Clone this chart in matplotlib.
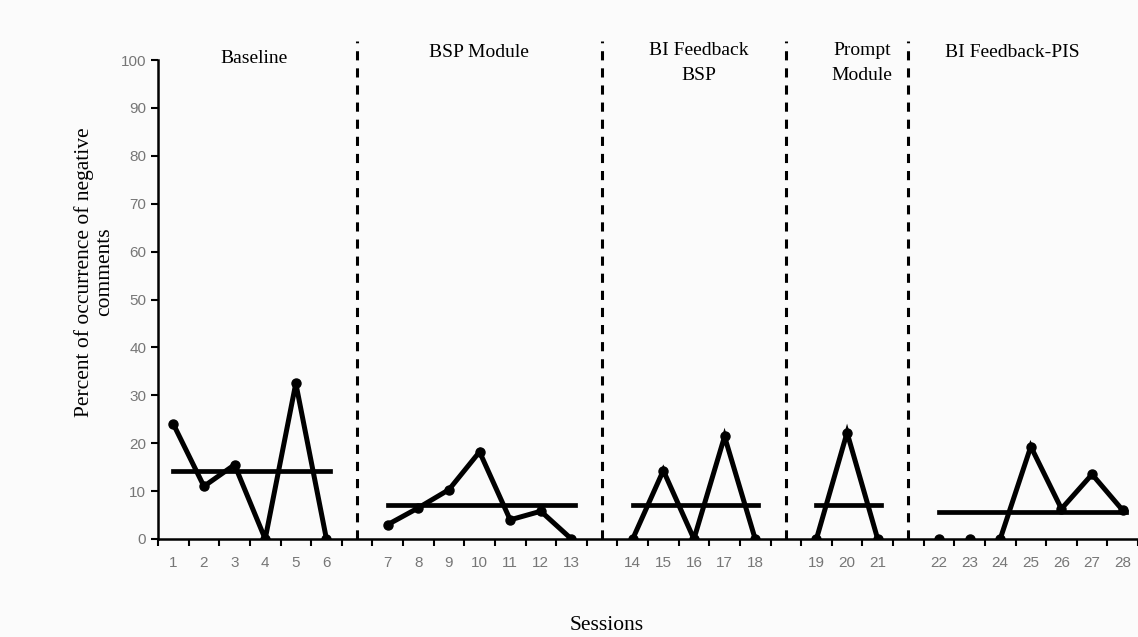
import matplotlib.pyplot as plt

# sessions per phase and percent of negative comments
phases = ["Baseline", "BSP Module", "BI Feedback\nBSP", "Prompt\nModule", "BI Feedback-PIS"]
sessions = [[1, 2, 3, 4, 5, 6],
            [7, 8, 9, 10, 11, 12, 13],
            [14, 15, 16, 17, 18],
            [19, 20, 21],
            [22, 23, 24, 25, 26, 27, 28]]
values = [[24, 11, 15.5, 0, 32.5, 0],
          [3, 6.5, 10.3, 18.2, 4, 5.8, 0],
          [0, 14.3, 0, 21.4, 0],
          [0, 22.2, 0],
          [0, 0, 0, 19.3, 6.3, 13.5, 6]]
means = [14.2, 7, 7, 7, 5.7]
# first session in each phase joined by the data line (22 and 23 stand alone)
line_start = [0, 0, 0, 0, 2]

# where the phase titles sit (slot units, y in percent)
title_x = [2.63, 9.97, 17.17, 22.49, 27.39]
title_y = [102.05, 103.3, 103.7, 103.7, 103.3]

bg = "#fbfbfb"
fig = plt.figure(figsize=(11.38, 6.37), dpi=100, facecolor=bg)
ax = fig.add_axes([158 / 1138, 98 / 637, 980 / 1138, 479 / 637], facecolor=bg)

serif = "Liberation Serif"
pos = 0
tick_pos, tick_lab, gap_pos = [], [], []
for i, (s, v) in enumerate(zip(sessions, values)):
    x = list(range(pos, pos + len(s)))
    st = line_start[i]
    ax.plot(x[st:], v[st:], color="black", lw=3.6, solid_joinstyle="miter", zorder=3)
    ax.plot(x, v, "o", color="black", ms=6.5, zorder=4)
    ax.plot([x[0], x[-1] + 0.1], [means[i], means[i]], color="black", lw=3.4, zorder=3)
    tick_pos += x
    tick_lab += [str(n) for n in s]
    ax.text(title_x[i], title_y[i], phases[i], ha="center", va="top",
            fontsize=14, family=serif, linespacing=1.58)
    pos += len(s)
    if i < len(sessions) - 1:
        gap_pos.append(pos)
        pos += 1

# phase change lines
for g in gap_pos:
    ax.plot([g, g], [0, 104], color="black", lw=2.2, ls=(0, (3, 2.6)), clip_on=False, zorder=2)

ax.set_xlim(-0.5, 31.28)
ax.set_ylim(0, 100)
ax.set_yticks(range(0, 101, 10))
ax.set_xticks(tick_pos)
ax.set_xticklabels(tick_lab)
ax.set_xticks([p - 0.5 for p in range(0, 33)], minor=True)
ax.tick_params(axis="x", which="major", length=0, pad=12)
ax.tick_params(axis="x", which="minor", length=5, width=1.5, direction="out")
ax.tick_params(axis="y", length=5, width=1.5, direction="out")
ax.tick_params(labelsize=11, labelcolor="#767676")
for lab in ax.get_xticklabels() + ax.get_yticklabels():
    lab.set_family("Liberation Sans")

for side in ["top", "right"]:
    ax.spines[side].set_visible(False)
ax.spines["left"].set_linewidth(1.8)
ax.spines["bottom"].set_linewidth(1.8)

fig.text(94 / 1138, 1 - 272 / 637, "Percent of occurrence of negative\ncomments",
         rotation=90, ha="center", va="center", fontsize=15.5, family=serif, linespacing=1.1)
fig.text(607 / 1138, 1 - 626 / 637, "Sessions", ha="center", va="center", fontsize=15.5, family=serif)

fig.savefig("out.png", dpi=100, facecolor=bg)
